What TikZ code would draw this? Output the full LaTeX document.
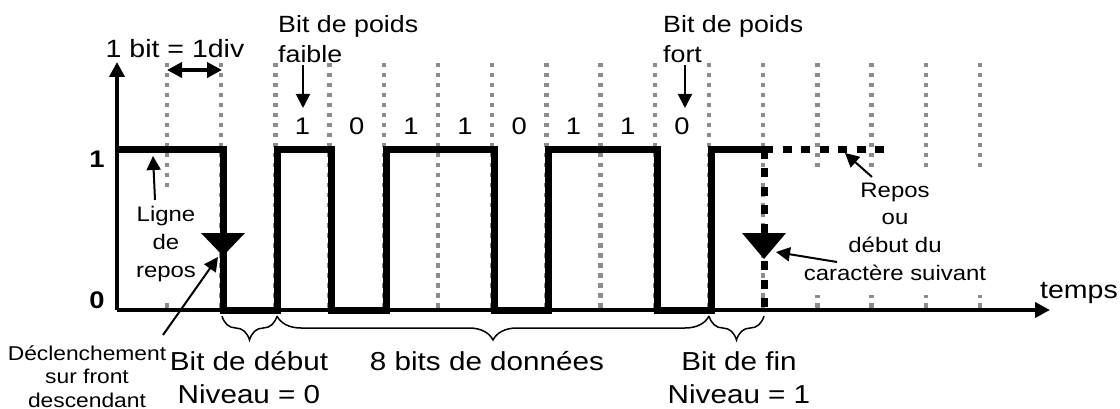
\documentclass[tikz,border=0pt]{standalone}
\usepackage{fontspec}
\setmainfont[FakeStretch=1.14]{Liberation Sans}
\usetikzlibrary{arrows.meta,decorations.pathreplacing}
\definecolor{dotgray}{HTML}{8C8C8C}
\begin{document}
\begin{tikzpicture}[x=1pt,y=-1pt,
  gridline/.style={draw=dotgray,line width=4.5pt,dash pattern=on 4.5pt off 5.5pt},
  axis/.style={line width=4pt,-{Triangle[length=15pt,width=15pt]}},
  signal/.style={line width=7pt,line join=miter,line cap=butt},
  rest/.style={line width=7pt,dash pattern=on 9pt off 9.5pt},
  pointer/.style={line width=2pt,-{Triangle[length=14pt,width=14pt]}},
  span/.style={line width=4pt,{Triangle[length=15pt,width=15pt]}-{Triangle[length=15pt,width=15pt]}},
  bigtxt/.style={inner sep=0pt,font=\fontsize{26}{33}\selectfont,align=center},
  midtxt/.style={inner sep=0pt,font=\fontsize{23.5}{30}\selectfont,align=left},
  smalltxt/.style={inner sep=0pt,font=\fontsize{21}{27.8}\selectfont,align=center},
  tinytxt/.style={inner sep=0pt,font=\fontsize{20}{23.5}\selectfont,align=center},
  bittxt/.style={inner sep=0pt,font=\fontsize{24}{28}\selectfont},
  leveltxt/.style={inner sep=0pt,font=\fontsize{24}{28}\selectfont\bfseries},
  bracestyle/.style={line width=1.5pt,decorate,decoration={brace,mirror,amplitude=24pt}}
]
\useasboundingbox (0,0) rectangle (1120,409);

% grid of bit periods
\foreach \k in {0,...,15}
  \draw[gridline] ({167+54.2*\k},63) -- ({167+54.2*\k},308);

% labels with white background (hide the grid); anchor base = last line
\node[smalltxt,anchor=base,fill=white,inner ysep=16pt] (ligne) at (166,277.5) {Ligne\\de\\repos};
\node[smalltxt,anchor=base,fill=white,inner xsep=2pt,inner ysep=14pt] (repos) at (895,280.5) {Repos\\ou\\début du\\caractère suivant};

% axes
\coordinate (origin) at (117,310);
\coordinate (ytip) at (117,62);
\coordinate (xtip) at (1050,310);
\draw[axis] (origin) -- (ytip);
\draw[axis] (origin) -- (xtip);

% signal
\draw[signal] (117,150) -- (223,150) -- (223,310) -- (277.5,310) -- (277.5,150)
  -- (331.5,150) -- (331.5,310) -- (386,310) -- (386,150) -- (494,150) -- (494,310)
  -- (548.5,310) -- (548.5,150) -- (657,150) -- (657,310) -- (711,310) -- (711,150) -- (764,150);
\draw[rest] (764,150) -- (887,150);
\draw[rest] (764,150) -- (764,310);

% falling-edge markers
\fill (201,233) -- (245,233) -- (223,256) -- cycle;
\fill (742,233) -- (786,233) -- (764,259) -- cycle;

% texts
\node[bigtxt,anchor=base,font=\fontsize{25}{30}\selectfont] (unit) at (175,58) {1 bit = 1div};
\node[midtxt,anchor=base west] (lsb) at (278,63) {Bit de poids\\faible};
\node[midtxt,anchor=base west] (msb) at (663,63) {Bit de poids\\fort};
\foreach \b [count=\i from 0] in {1,0,1,1,0,1,1,0}
  \node[bittxt,anchor=base] (bit\i) at ({302.5+54.2*\i},135) {\b};
\node[leveltxt,anchor=base] (one) at (97,168) {1};
\node[leveltxt,anchor=base] (zero) at (97,308) {0};
\node[tinytxt,anchor=base] (decl) at (87,407) {Déclenchement\\sur front\\descendant};
\node[bigtxt,anchor=base] (start) at (249,403) {Bit de début\\Niveau = 0};
\node[bigtxt,anchor=base] (data) at (487,370) {8 bits de données};
\node[bigtxt,anchor=base] (stop) at (739,403) {Bit de fin\\Niveau = 1};
\node[bigtxt,anchor=base west,font=\fontsize{25}{30}\selectfont] (temps) at (1040,298) {temps};

% 1 bit span
\coordinate (spanA) at (167,70);
\coordinate (spanB) at (222,70);
\draw[span] (spanA) -- (spanB);

% pointers
\coordinate (lsbTail) at (303,65);  \coordinate (lsbTip) at (303,108);
\coordinate (msbTail) at (685,65);  \coordinate (msbTip) at (685,108);
\coordinate (ligneTail) at (155,200); \coordinate (ligneTip) at (153,156);
\coordinate (declTail) at (163,335); \coordinate (declTip) at (218,257);
\coordinate (reposTail) at (872,177); \coordinate (reposTip) at (845,153);
\coordinate (suivTail) at (837,262); \coordinate (suivTip) at (776,252);
\draw[pointer] (lsbTail) -- (lsbTip);
\draw[pointer] (msbTail) -- (msbTip);
\draw[pointer] (ligneTail) -- (ligneTip);
\draw[pointer] (declTail) -- (declTip);
\draw[pointer] (reposTail) -- (reposTip);
\draw[pointer] (suivTail) -- (suivTip);

% braces
\coordinate (b0) at (222,316);
\coordinate (b1) at (277,316);
\coordinate (b2) at (709,316);
\coordinate (b3) at (764,316);
\draw[bracestyle] (b0) -- (b1);
\draw[bracestyle] (b1) -- (b2);
\draw[bracestyle] (b2) -- (b3);
\end{tikzpicture}
\end{document}
